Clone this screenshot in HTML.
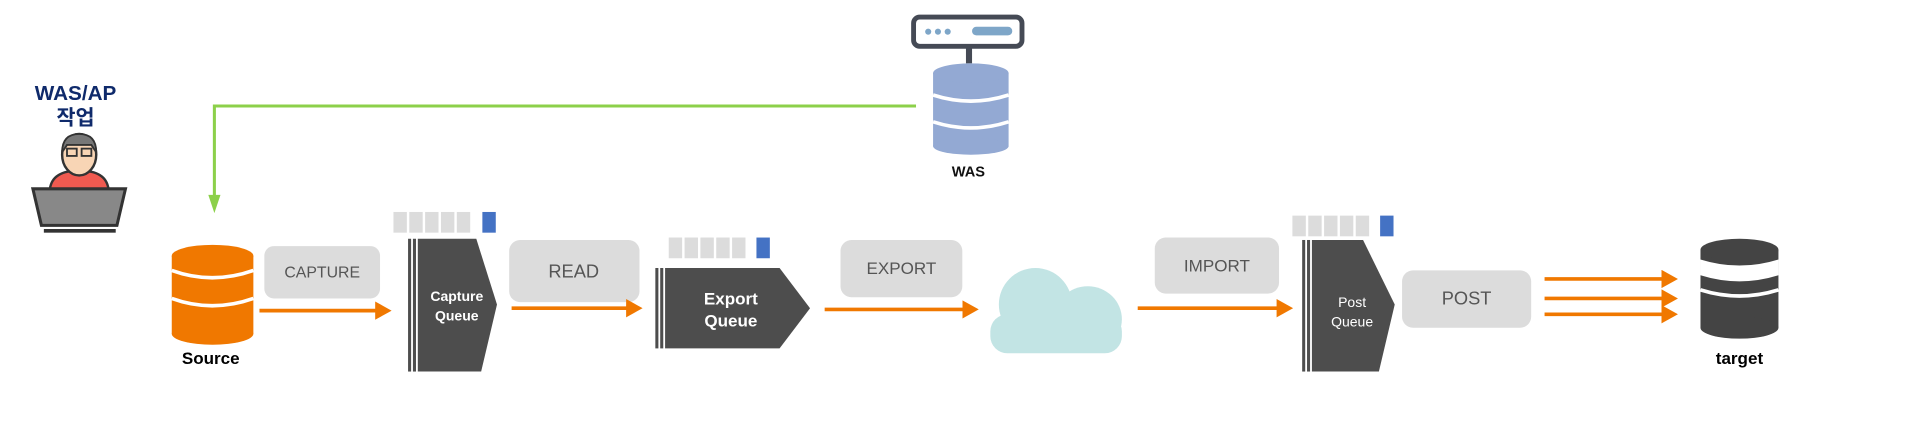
<!DOCTYPE html>
<html><head><meta charset="utf-8"><style>
html,body{margin:0;padding:0;background:#fff;width:1910px;height:421px;overflow:hidden}
svg{display:block}
text{font-family:"Liberation Sans","Noto Sans CJK KR",sans-serif}
</style></head><body>
<svg width="1910" height="421" viewBox="0 0 1568 345.6" preserveAspectRatio="none">
<defs>
<marker id="oa" markerWidth="4.5" markerHeight="5" refX="3" refY="2.5" orient="auto" markerUnits="strokeWidth"><path d="M0,0 L4.5,2.5 L0,5 Z" fill="#f07800"/></marker>
</defs>
<!-- WAS/AP -->
<text x="62" y="82" font-size="17" font-weight="bold" fill="#0f2a6b" text-anchor="middle">WAS/AP</text>
<text x="62" y="102" font-size="17" font-weight="bold" fill="#0f2a6b" text-anchor="middle">작업</text>
<!-- person -->
<path d="M41,155 Q43,140 65,140 Q87,140 89,155 Z" fill="#f05a50" stroke="#333" stroke-width="2"/>
<ellipse cx="65" cy="127" rx="14" ry="17" fill="#f8d5b5" stroke="#333" stroke-width="2"/>
<path d="M51,125 Q51,110 65,110 Q79,110 79,125 L75,119 L55,119 Z" fill="#777" stroke="#333" stroke-width="1.5"/>
<rect x="55" y="122" width="8" height="6" fill="none" stroke="#333" stroke-width="1.5"/>
<rect x="67" y="122" width="8" height="6" fill="none" stroke="#333" stroke-width="1.5"/>
<path d="M27,155 L103,155 L96,185 L34,185 Z" fill="#888" stroke="#333" stroke-width="2.5"/>
<rect x="36" y="188" width="59" height="3" fill="#333"/>
<!-- green line -->
<polyline points="752,87 176,87 176,166" fill="none" stroke="#8cd04a" stroke-width="2.5"/>
<path d="M171,160 L181,160 L176,175 Z" fill="#8cd04a"/>
<!-- WAS server -->
<rect x="750" y="14" width="89" height="24" rx="5" fill="#fff" stroke="#454a55" stroke-width="4"/>
<circle cx="762" cy="26" r="2.5" fill="#7ea6c8"/><circle cx="770" cy="26" r="2.5" fill="#7ea6c8"/><circle cx="778" cy="26" r="2.5" fill="#7ea6c8"/>
<rect x="798" y="22" width="33" height="7" rx="3.5" fill="#7ea6c8"/>
<rect x="793" y="38" width="5" height="14" fill="#454a55"/>
<rect x="766" y="60" width="62" height="60" fill="#93a9d3"/>
<ellipse cx="797" cy="120" rx="31" ry="7" fill="#93a9d3"/>
<ellipse cx="797" cy="60" rx="31" ry="8" fill="#93a9d3"/>
<path d="M766,78 Q797,88 828,78" stroke="#fff" stroke-width="3" fill="none"/>
<path d="M766,100 Q797,110 828,100" stroke="#fff" stroke-width="3" fill="none"/>
<text x="795" y="145" font-size="12" font-weight="bold" fill="#111" text-anchor="middle">WAS</text>
<!-- Source DB -->
<rect x="141" y="210" width="67" height="64" fill="#f07800"/>
<ellipse cx="174.5" cy="274" rx="33.5" ry="9" fill="#f07800"/>
<ellipse cx="174.5" cy="210" rx="33.5" ry="9" fill="#f07800"/>
<path d="M141,222 Q174,234 208,222" stroke="#fff" stroke-width="3" fill="none"/>
<path d="M141,245 Q174,257 208,245" stroke="#fff" stroke-width="3" fill="none"/>
<text x="173" y="299" font-size="14" font-weight="bold" fill="#000" text-anchor="middle">Source</text>
<!-- CAPTURE -->
<rect x="217" y="202" width="95" height="43" rx="8" fill="#dcdcdc"/>
<text x="264.5" y="228" font-size="13" fill="#555" text-anchor="middle">CAPTURE</text>
<line x1="213" y1="255" x2="317" y2="255" stroke="#f07800" stroke-width="3" marker-end="url(#oa)"/>
<!-- capture queue blocks -->
<g fill="#dcdcdc"><rect x="323" y="174" width="11" height="17"/><rect x="336" y="174" width="11" height="17"/><rect x="349" y="174" width="11" height="17"/><rect x="362" y="174" width="11" height="17"/><rect x="375" y="174" width="11" height="17"/></g>
<rect x="396" y="174" width="11" height="17" fill="#4472c4"/>
<rect x="335" y="196" width="2.5" height="109" fill="#4d4d4d"/>
<rect x="339" y="196" width="2.5" height="109" fill="#4d4d4d"/>
<path d="M343,196 L391,196 L408,250 L395,305 L343,305 Z" fill="#4d4d4d"/>
<text x="375" y="247" font-size="11.5" font-weight="bold" fill="#fff" text-anchor="middle">Capture</text>
<text x="375" y="263" font-size="11.5" font-weight="bold" fill="#fff" text-anchor="middle">Queue</text>
<!-- READ -->
<rect x="418" y="197" width="107" height="51" rx="9" fill="#dcdcdc"/>
<text x="471" y="228" font-size="15" fill="#555" text-anchor="middle">READ</text>
<line x1="420" y1="253" x2="523" y2="253" stroke="#f07800" stroke-width="3" marker-end="url(#oa)"/>
<!-- export queue -->
<g fill="#dcdcdc"><rect x="549" y="195" width="11" height="17"/><rect x="562" y="195" width="11" height="17"/><rect x="575" y="195" width="11" height="17"/><rect x="588" y="195" width="11" height="17"/><rect x="601" y="195" width="11" height="17"/></g>
<rect x="621" y="195" width="11" height="17" fill="#4472c4"/>
<rect x="538" y="220" width="2.5" height="66" fill="#4d4d4d"/>
<rect x="542" y="220" width="2.5" height="66" fill="#4d4d4d"/>
<path d="M546,220 L640,220 L665,253 L640,286 L546,286 Z" fill="#4d4d4d"/>
<text x="600" y="250" font-size="14" font-weight="bold" fill="#fff" text-anchor="middle">Export</text>
<text x="600" y="268" font-size="14" font-weight="bold" fill="#fff" text-anchor="middle">Queue</text>
<!-- EXPORT -->
<rect x="690" y="197" width="100" height="47" rx="9" fill="#dcdcdc"/>
<text x="740" y="225" font-size="14" fill="#555" text-anchor="middle">EXPORT</text>
<line x1="677" y1="254" x2="799" y2="254" stroke="#f07800" stroke-width="3" marker-end="url(#oa)"/>
<!-- cloud -->
<g fill="#c2e4e4">
<ellipse cx="850" cy="250" rx="30" ry="30"/>
<ellipse cx="893" cy="262" rx="28" ry="27"/>
<rect x="813" y="258" width="108" height="32" rx="14"/>
</g>
<!-- IMPORT -->
<rect x="948" y="195" width="102" height="46" rx="9" fill="#dcdcdc"/>
<text x="999" y="223" font-size="14" fill="#555" text-anchor="middle">IMPORT</text>
<line x1="934" y1="253" x2="1057" y2="253" stroke="#f07800" stroke-width="3" marker-end="url(#oa)"/>
<!-- post queue -->
<g fill="#dcdcdc"><rect x="1061" y="177" width="11" height="17"/><rect x="1074" y="177" width="11" height="17"/><rect x="1087" y="177" width="11" height="17"/><rect x="1100" y="177" width="11" height="17"/><rect x="1113" y="177" width="11" height="17"/></g>
<rect x="1133" y="177" width="11" height="17" fill="#4472c4"/>
<rect x="1069" y="197" width="2.5" height="108" fill="#4d4d4d"/>
<rect x="1073" y="197" width="2.5" height="108" fill="#4d4d4d"/>
<path d="M1077,197 L1119,197 L1145,250 L1132,305 L1077,305 Z" fill="#4d4d4d"/>
<text x="1110" y="252" font-size="11.5" fill="#fff" text-anchor="middle">Post</text>
<text x="1110" y="268" font-size="11.5" fill="#fff" text-anchor="middle">Queue</text>
<!-- POST -->
<rect x="1151" y="222" width="106" height="47" rx="9" fill="#dcdcdc"/>
<text x="1204" y="250" font-size="15" fill="#555" text-anchor="middle">POST</text>
<line x1="1268" y1="229" x2="1373" y2="229" stroke="#f07800" stroke-width="3" marker-end="url(#oa)"/>
<line x1="1268" y1="245" x2="1373" y2="245" stroke="#f07800" stroke-width="3" marker-end="url(#oa)"/>
<line x1="1268" y1="258" x2="1373" y2="258" stroke="#f07800" stroke-width="3" marker-end="url(#oa)"/>
<!-- target -->
<rect x="1396" y="205" width="64" height="64" fill="#444"/>
<ellipse cx="1428" cy="269" rx="32" ry="9" fill="#444"/>
<ellipse cx="1428" cy="205" rx="32" ry="9" fill="#444"/>
<path d="M1396,213 Q1428,223 1460,213 L1460,226 Q1428,236 1396,226 Z" fill="#fff"/>
<path d="M1396,238 Q1428,248 1460,238" stroke="#fff" stroke-width="3" fill="none"/>
<text x="1428" y="299" font-size="14" font-weight="bold" fill="#000" text-anchor="middle">target</text>
</svg>
</body></html>
